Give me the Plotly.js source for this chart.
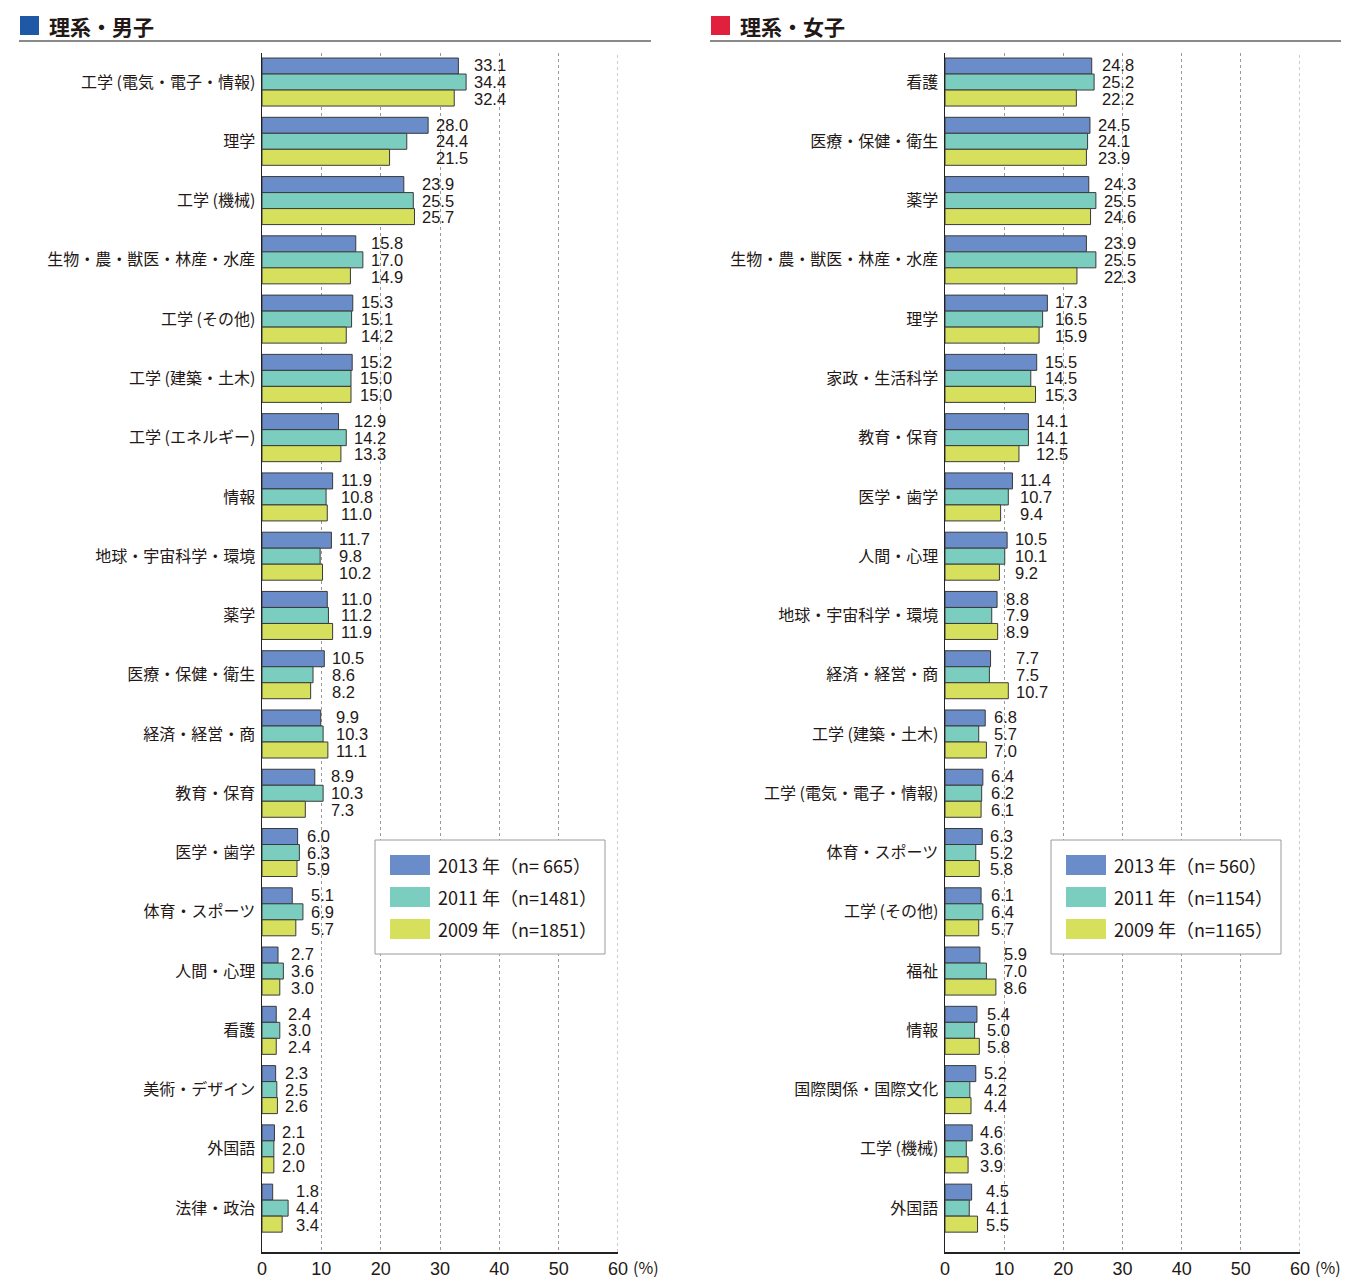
<!DOCTYPE html>
<html>
<head>
<meta charset="utf-8">
<script src="https://cdn.plot.ly/plotly-3.0.1.min.js"></script>
<style>html,body{margin:0;padding:0;background:#fff;}#chart{width:1359px;height:1280px;}</style>
</head>
<body>
<div id="chart"></div>
<script>
// ---- Data ----
const catsM = ["工学 (電気・電子・情報)","理学","工学 (機械)","生物・農・獣医・林産・水産","工学 (その他)","工学 (建築・土木)","工学 (エネルギー)","情報","地球・宇宙科学・環境","薬学","医療・保健・衛生","経済・経営・商","教育・保育","医学・歯学","体育・スポーツ","人間・心理","看護","美術・デザイン","外国語","法律・政治"];
const m2013 = [33.1,28.0,23.9,15.8,15.3,15.2,12.9,11.9,11.7,11.0,10.5,9.9,8.9,6.0,5.1,2.7,2.4,2.3,2.1,1.8];
const m2011 = [34.4,24.4,25.5,17.0,15.1,15.0,14.2,10.8,9.8,11.2,8.6,10.3,10.3,6.3,6.9,3.6,3.0,2.5,2.0,4.4];
const m2009 = [32.4,21.5,25.7,14.9,14.2,15.0,13.3,11.0,10.2,11.9,8.2,11.1,7.3,5.9,5.7,3.0,2.4,2.6,2.0,3.4];

const catsF = ["看護","医療・保健・衛生","薬学","生物・農・獣医・林産・水産","理学","家政・生活科学","教育・保育","医学・歯学","人間・心理","地球・宇宙科学・環境","経済・経営・商","工学 (建築・土木)","工学 (電気・電子・情報)","体育・スポーツ","工学 (その他)","福祉","情報","国際関係・国際文化","工学 (機械)","外国語"];
const f2013 = [24.8,24.5,24.3,23.9,17.3,15.5,14.1,11.4,10.5,8.8,7.7,6.8,6.4,6.3,6.1,5.9,5.4,5.2,4.6,4.5];
const f2011 = [25.2,24.1,25.5,25.5,16.5,14.5,14.1,10.7,10.1,7.9,7.5,5.7,6.2,5.2,6.4,7.0,5.0,4.2,3.6,4.1];
const f2009 = [22.2,23.9,24.6,22.3,15.9,15.3,12.5,9.4,9.2,8.9,10.7,7.0,6.1,5.8,5.7,8.6,5.8,4.4,3.9,5.5];

const legendM = ["2013 年（n= 665）","2011 年（n=1481）","2009 年（n=1851）"];
const legendF = ["2013 年（n= 560）","2011 年（n=1154）","2009 年（n=1165）"];
const panelTitles = ["理系・男子","理系・女子"];
const xTicks = [0,10,20,30,40,50,60];

// ---- Styles ----
const W = 1359, H = 1280;
const colors = ["#6a8cc8","#7bcdbf","#d6e05c"];
const edge = "#3a3a3a";
const txt = "#231815";
const jp = "'Noto Sans CJK JP', 'Noto Sans', sans-serif";
const num = "'Liberation Sans', Arial, sans-serif";
const px = v => v / W;
const py = v => 1 - v / H;

const panels = [
  {cats: catsM, series: [m2013, m2011, m2009], legend: legendM, xa: "x", ya: "y", x0: 262, x1: 618, hx: 20, hcol: "#1f58a5", lineEnd: 651, lgx: 375},
  {cats: catsF, series: [f2013, f2011, f2009], legend: legendF, xa: "x2", ya: "y2", x0: 945, x1: 1300, hx: 711, hcol: "#e0203c", lineEnd: 1341, lgx: 1051}
];

const traces = [];
const annotations = [];
const shapes = [];

panels.forEach((p, pi) => {
  p.series.forEach((vals, si) => {
    traces.push({
      type: "bar", orientation: "h",
      x: vals, y: p.cats,
      xaxis: p.xa, yaxis: p.ya,
      name: p.legend[si],
      marker: {color: colors[si], line: {color: edge, width: 1}},
      showlegend: false, hoverinfo: "skip"
    });
  });
  // value labels aligned after the longest bar of each group
  p.cats.forEach((c, ci) => {
    const mx = Math.max(p.series[0][ci], p.series[1][ci], p.series[2][ci]);
    p.series.forEach((vals, si) => {
      annotations.push({
        xref: p.xa, yref: p.ya, x: mx, y: c,
        text: vals[ci].toFixed(1), showarrow: false,
        xanchor: "left", yanchor: "middle", xshift: 6, yshift: (1 - si) * 16.8,
        font: {family: num, size: 16.5, color: txt}
      });
    });
  });
  // last gridline at the range end (60)
  shapes.push({type: "line", xref: p.xa, yref: p.ya + " domain", x0: xTicks[xTicks.length - 1], x1: xTicks[xTicks.length - 1], y0: 0, y1: 1,
    line: {color: "#9a9a9a", width: 1, dash: "dot"}, layer: "below"});
  // header
  shapes.push({type: "rect", xref: "paper", yref: "paper", x0: px(p.hx), x1: px(p.hx + 19), y0: py(35), y1: py(16), fillcolor: p.hcol, line: {width: 0}});
  shapes.push({type: "line", xref: "paper", yref: "paper", x0: px(p.hx - 1), x1: px(p.lineEnd), y0: py(41), y1: py(41), line: {color: "#8a8a8a", width: 2}});
  annotations.push({xref: "paper", yref: "paper", x: px(p.hx + 27), y: py(26), xanchor: "left", yanchor: "middle", showarrow: false,
    text: "<b>" + panelTitles[pi] + "</b>", font: {family: jp, size: 21, color: txt}});
  // percent unit
  annotations.push({xref: "paper", yref: "paper", x: px(p.x1 + 13), y: py(1267), xanchor: "left", yanchor: "middle", showarrow: false,
    text: "(%)", font: {family: jp, size: 16, color: txt}});
  // legend
  shapes.push({type: "rect", xref: "paper", yref: "paper", x0: px(p.lgx), x1: px(p.lgx + 230), y0: py(954), y1: py(840), fillcolor: "#fff", line: {color: "#9a9a9a", width: 1}, layer: "above"});
  p.legend.forEach((lab, si) => {
    const cy = 865 + si * 32;
    shapes.push({type: "rect", xref: "paper", yref: "paper", x0: px(p.lgx + 15), x1: px(p.lgx + 55), y0: py(cy + 10), y1: py(cy - 10), fillcolor: colors[si], line: {width: 0}, layer: "above"});
    annotations.push({xref: "paper", yref: "paper", x: px(p.lgx + 61), y: py(cy), xanchor: "left", yanchor: "middle", showarrow: false,
      text: lab, font: {family: jp, size: 18, color: txt}});
  });
});

function xaxis(p) {
  return {domain: [px(p.x0), px(p.x1)], range: [0, 60], tickvals: xTicks, ticktext: xTicks.map(String),
    showgrid: true, gridcolor: "#9a9a9a", griddash: "dot", gridwidth: 1,
    showline: true, linecolor: "#222", linewidth: 1.5, zeroline: false, ticks: "",
    tickfont: {family: num, size: 18, color: txt}, anchor: p.ya, fixedrange: true, automargin: false};
}
function yaxis(p) {
  return {domain: [py(1252), py(53)], type: "category", range: [19.74, -0.49],
    showline: true, linecolor: "#222", linewidth: 1.5, showgrid: false, zeroline: false,
    ticks: "outside", ticklen: 2, tickcolor: "rgba(0,0,0,0)",
    tickfont: {family: jp, size: 16, color: txt}, anchor: p.xa, fixedrange: true, automargin: false};
}

const layout = {
  width: W, height: H,
  margin: {l: 0, r: 0, t: 0, b: 0, pad: 0},
  paper_bgcolor: "#fff", plot_bgcolor: "rgba(0,0,0,0)",
  barmode: "group", bargap: 0.19, bargroupgap: 0,
  showlegend: false,
  xaxis: xaxis(panels[0]), yaxis: yaxis(panels[0]),
  xaxis2: xaxis(panels[1]), yaxis2: yaxis(panels[1]),
  shapes: shapes, annotations: annotations
};

Plotly.newPlot("chart", traces, layout, {staticPlot: true, displayModeBar: false});
</script>
</body>
</html>
